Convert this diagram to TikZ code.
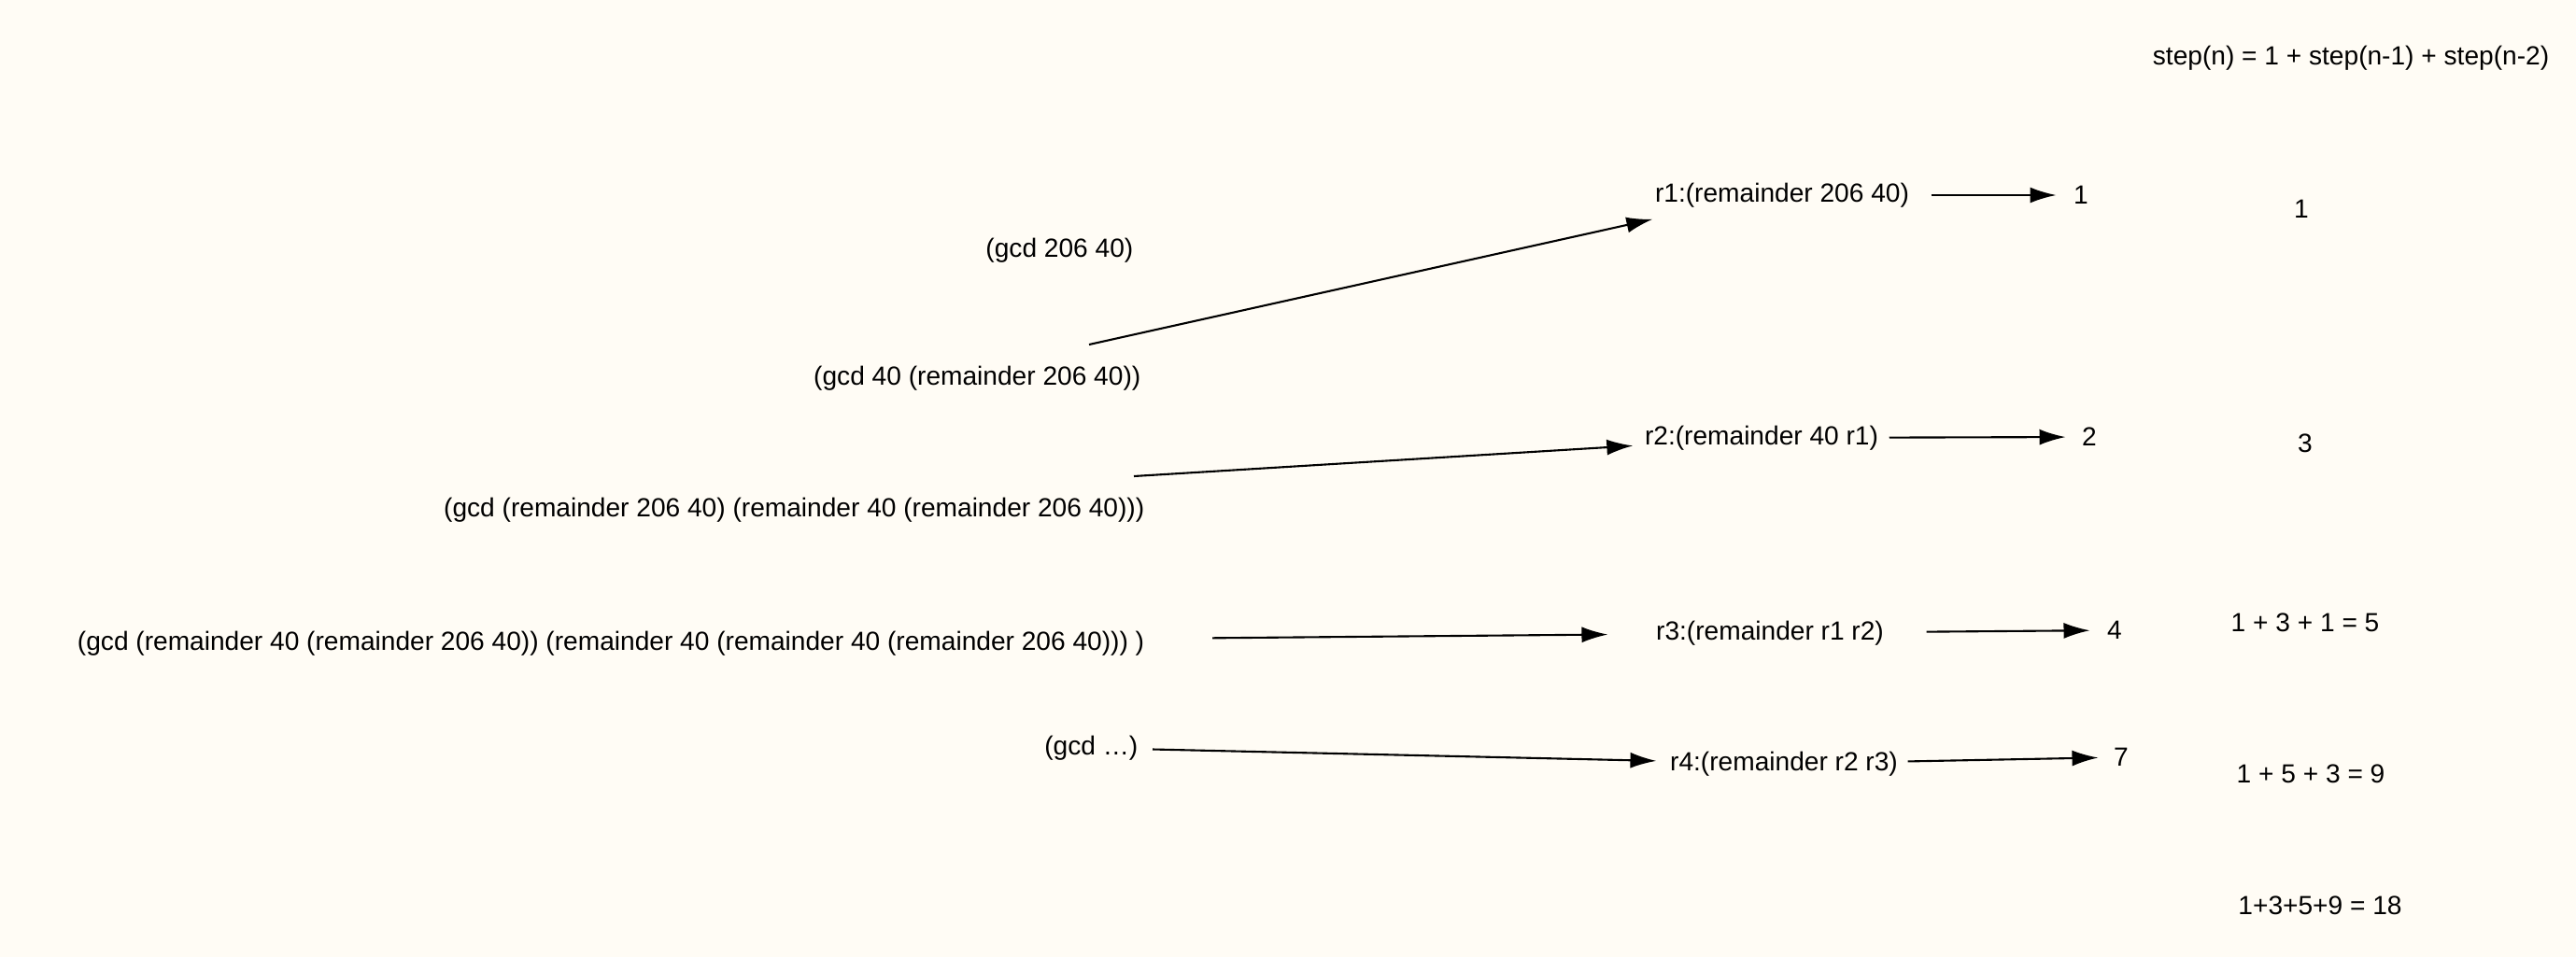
\documentclass[tikz,border=0pt]{standalone}
\usepackage{fontspec}
\setmainfont{Liberation Sans}
\usetikzlibrary{arrows.meta}
\definecolor{paper}{HTML}{FFFCF5}

\begin{document}
\begin{tikzpicture}[every node/.style={inner sep=0pt,font=\fontsize{8}{10}\selectfont},
  link/.style={-{Latex[length=2.8mm,width=1.7mm]},line width=0.6pt}]
\fill[paper] (0,0) rectangle (27.58,-10.25);
\useasboundingbox (0,0) rectangle (27.58,-10.25);
	\node (t) at (25.17,-0.62) {step(n) = 1 + step(n-1) + step(n-2)};
\node[anchor=east] (g1) at (12.14,-2.68) {(gcd 206 40)};
\node[anchor=east] (g2) at (12.22,-4.05) {(gcd 40 (remainder 206 40))};
\node[anchor=east] (g3) at (12.26,-5.46) {(gcd (remainder 206 40) (remainder 40 (remainder 206 40)))};
\node[anchor=east] (g4) at (12.26,-6.89) {(gcd (remainder 40 (remainder 206 40)) (remainder 40 (remainder 40 (remainder 206 40))) )};
\node[anchor=east] (g5) at (12.19,-8.01) {(gcd …)};
\coordinate (c2) at (11.66,-3.69);
\coordinate (c3) at (12.14,-5.10);
\node (r1) at (19.08,-2.09) {r1:(remainder 206 40)};
\node (r2) at (18.86,-4.69) {r2:(remainder 40 r1)};
\node (r3) at (18.95,-6.78) {r3:(remainder r1 r2)};
\node (r4) at (19.10,-8.18) {r4:(remainder r2 r3)};
\node (n1) at (22.28,-2.09) {1};
\node (n2) at (22.37,-4.68) {2};
\node (n4) at (22.64,-6.75) {4};
\node (n7) at (22.71,-8.11) {7};
\node (s1) at (24.64,-2.24) {1};
\node (s3) at (24.68,-4.75) {3};
\node (s5) at (24.68,-6.67) {1 + 3 + 1 = 5};
\node (s9) at (24.74,-8.29) {1 + 5 + 3 = 9};
\node (s18) at (24.84,-9.70) {1+3+5+9 = 18};
\draw [link](c2)--([xshift=-0.02cm,yshift=-0.12cm]r1.south west);
\draw [link,shorten <=2.3mm,shorten >=1.8mm](r1)--(n1);
\draw [link,shorten >=1.2mm](c3)--(r2);
\draw [link,shorten <=1.1mm,shorten >=1.7mm](r2)--(n2);
\draw [link,shorten <=7.2mm,shorten >=5.1mm](g4)--(r3);
\draw [link,shorten <=4.5mm,shorten >=1.8mm](r3)--(n4);
\draw [link,shorten <=1.5mm,shorten >=1.4mm](g5)--(r4);
\draw [link,shorten <=1mm,shorten >=1.6mm](r4)--(n7);
	\end{tikzpicture}
\end{document}
